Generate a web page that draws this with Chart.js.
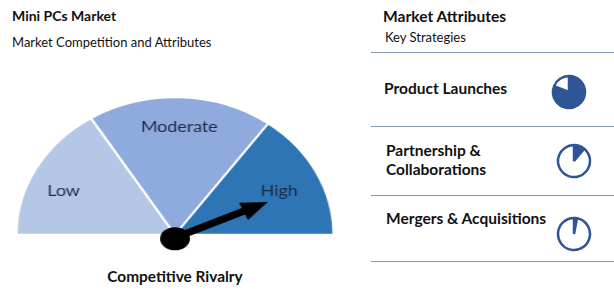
<!DOCTYPE html>
<html><head><meta charset="utf-8">
<script src="https://cdn.jsdelivr.net/npm/chart.js@4"></script>
<style>
html,body{margin:0;padding:0;background:#fff;}
#page{position:relative;width:614px;height:297px;overflow:hidden;font-family:Lato,"Open Sans",sans-serif;color:#111;}
.t{position:absolute;white-space:nowrap;line-height:1;}
.rule{position:absolute;left:371px;width:243px;height:0;border-top:1.5px solid #8497b0;}
#gaugeWrap{position:absolute;left:25px;top:90px;width:300px;height:165px;transform:scaleX(1.153);transform-origin:150px 0;}
.mini{position:absolute;width:40px;height:40px;}
</style></head>
<body>
<div id="page">
  <div class="t" style="left:12px;top:8.5px;font-size:14px;font-weight:700;">Mini PCs Market</div>
  <div class="t" style="left:12px;top:36px;font-size:13px;">Market Competition and Attributes</div>
  <div class="t" id="rivalry" style="left:0;width:350px;text-align:center;top:269px;font-size:15.4px;font-weight:700;">Competitive Rivalry</div>

  <div class="t" style="left:383px;top:8.8px;font-size:15.6px;font-weight:700;">Market Attributes</div>
  <div class="t" style="left:385px;top:31px;font-size:13px;">Key Strategies</div>

  <div id="gaugeWrap"><canvas id="gauge" width="300" height="165"></canvas></div>
  <div id="attrs"></div>
</div>
<script>
// ---- data ----
const gaugeLabels = ['Low', 'Moderate', 'High'];
const gaugeValues = [58, 68, 54];
const needleValue = 156;
const attributeLabels = [['Product Launches'], ['Partnership &', 'Collaborations'], ['Mergers & Acquisitions']];
const attributeValues = [81, 11, 3];

// ---- styles ----
const gaugeColors = ['#b4c7e7', '#8faadc', '#2e75b6'];
const labelNudge = [[-4, 6], [0, -4], [-4, 2]];
const iconColor = '#2f5597';
Chart.defaults.font.family = 'Lato, "Open Sans", sans-serif';

const labelPlugin = {
  id: 'gaugeLabels',
  afterDatasetsDraw(chart) {
    const meta = chart.getDatasetMeta(0);
    const ctx = chart.ctx;
    ctx.save();
    ctx.fillStyle = '#1f2a44';
    ctx.font = '15.5px Lato, "Open Sans", sans-serif';
    ctx.textAlign = 'center';
    ctx.textBaseline = 'middle';
    meta.data.forEach((arc, i) => {
      const mid = (arc.startAngle + arc.endAngle) / 2;
      const r = arc.outerRadius * 0.77;
      ctx.fillText(gaugeLabels[i], arc.x + Math.cos(mid) * r + labelNudge[i][0], arc.y + Math.sin(mid) * r + 2 + labelNudge[i][1]);
    });
    // needle
    const a0 = meta.data[0];
    const total = gaugeValues.reduce((s, v) => s + v, 0);
    const ang = -Math.PI + needleValue / total * Math.PI;
    const L = 88;
    ctx.translate(a0.x, a0.y + 3);
    ctx.fillStyle = '#000';
    ctx.beginPath();
    ctx.ellipse(0, 1, 13, 11.5, 0, 0, Math.PI * 2);
    ctx.fill();
    ctx.rotate(ang);
    ctx.beginPath();
    ctx.moveTo(0, -3.5);
    ctx.lineTo(L - 23, -3.5);
    ctx.lineTo(L - 23, -9.5);
    ctx.lineTo(L, 0);
    ctx.lineTo(L - 23, 9.5);
    ctx.lineTo(L - 23, 3.5);
    ctx.lineTo(0, 3.5);
    ctx.closePath();
    ctx.fill();
    ctx.restore();
  }
};

new Chart(document.getElementById('gauge'), {
  type: 'doughnut',
  data: {
    labels: gaugeLabels,
    datasets: [{ data: gaugeValues, backgroundColor: gaugeColors, borderColor: '#ffffff', borderWidth: 2 }]
  },
  options: {
    responsive: false,
    animation: false,
    rotation: -90,
    circumference: 180,
    cutout: 0,
    radius: 137.5,
    layout: { padding: { bottom: 13 } },
    events: [],
    plugins: { legend: { display: false }, tooltip: { enabled: false } }
  },
  plugins: [labelPlugin]
});

// ---- attributes panel ----
const page = document.getElementById('page');
const ruleYs = [53, 127, 196, 262];
ruleYs.forEach(y => {
  const d = document.createElement('div');
  d.className = 'rule';
  d.style.top = (y - 0.75) + 'px';
  page.appendChild(d);
});
const labelYs = [[89], [151, 170], [219]];
const iconCenters = [[569, 92], [574, 160.5], [574, 234]];
attributeLabels.forEach((lines, i) => {
  lines.forEach((txt, j) => {
    const d = document.createElement('div');
    d.className = 't';
    d.style.left = (i === 0 ? 384 : 386) + 'px';
    d.style.top = (labelYs[i][j] - 8.2) + 'px';
    d.style.fontSize = '15.5px';
    d.style.fontWeight = '700';
    d.textContent = txt;
    page.appendChild(d);
  });
  const c = document.createElement('canvas');
  c.className = 'mini';
  c.width = 40; c.height = 40;
  c.style.left = (iconCenters[i][0] - 20) + 'px';
  c.style.top = (iconCenters[i][1] - 20) + 'px';
  page.appendChild(c);
  new Chart(c, {
    type: 'pie',
    data: {
      labels: ['Share', 'Rest'],
      datasets: [{
        data: [attributeValues[i], 100 - attributeValues[i]],
        backgroundColor: [iconColor, '#ffffff'],
        borderColor: iconColor,
        borderWidth: 2.5
      }]
    },
    options: {
      responsive: false,
      animation: false,
      radius: 16,
      events: [],
      plugins: { legend: { display: false }, tooltip: { enabled: false } }
    }
  });
});
</script>
</body></html>
